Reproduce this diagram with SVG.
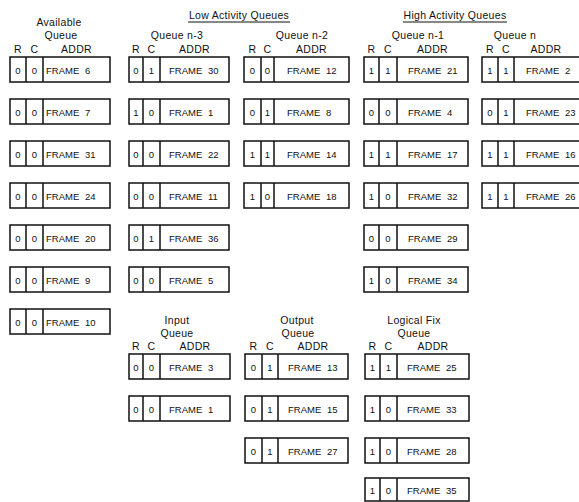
<svg xmlns="http://www.w3.org/2000/svg" width="579" height="502" viewBox="0 0 579 502">
<style>
text{font-family:"Liberation Sans",Arial,sans-serif;fill:#111}
.h{font-size:10.5px;text-anchor:middle;letter-spacing:.3px}
.b{font-size:9.5px;text-anchor:middle}
.f{font-size:9.5px;word-spacing:3px}
rect,path{fill:none;stroke:#111;stroke-width:1.5}
.u{stroke-width:1}
</style>
<rect x="0" y="0" width="579" height="502" style="fill:#fff;stroke:none"/>
<g id="headers">
<text class="h" x="59" y="26">Available</text>
<text class="h" x="61" y="39">Queue</text>
<text class="h" x="239" y="19">Low Activity Queues</text>
<path class="u" d="M188 22H290"/>
<text class="h" x="455" y="19">High Activity Queues</text>
<path class="u" d="M403 22H507"/>
<text class="h" x="177" y="39">Queue n-3</text>
<text class="h" x="302" y="39">Queue n-2</text>
<text class="h" x="418" y="39">Queue n-1</text>
<text class="h" x="515" y="39">Queue n</text>
<text class="h" x="18" y="53">R</text><text class="h" x="34.5" y="53">C</text><text class="h" x="76.5" y="53">ADDR</text>
<text class="h" x="136" y="53">R</text><text class="h" x="151.5" y="53">C</text><text class="h" x="194.5" y="53">ADDR</text>
<text class="h" x="252.5" y="53">R</text><text class="h" x="267.5" y="53">C</text><text class="h" x="311.5" y="53">ADDR</text>
<text class="h" x="371.5" y="53">R</text><text class="h" x="388" y="53">C</text><text class="h" x="432.5" y="53">ADDR</text>
<text class="h" x="490" y="53">R</text><text class="h" x="506" y="53">C</text><text class="h" x="546" y="53">ADDR</text>
<text class="h" x="177" y="324">Input</text>
<text class="h" x="177" y="337">Queue</text>
<text class="h" x="297" y="324">Output</text>
<text class="h" x="298" y="337">Queue</text>
<text class="h" x="414" y="324">Logical Fix</text>
<text class="h" x="414" y="337">Queue</text>
<text class="h" x="136" y="350">R</text><text class="h" x="151.5" y="350">C</text><text class="h" x="195" y="350">ADDR</text>
<text class="h" x="253.5" y="350">R</text><text class="h" x="270" y="350">C</text><text class="h" x="313" y="350">ADDR</text>
<text class="h" x="372.5" y="350">R</text><text class="h" x="388.5" y="350">C</text><text class="h" x="433" y="350">ADDR</text>
</g>
<g id="connectors"></g>
<!-- Available queue -->
<g id="avail-1" transform="translate(0,57)"><rect x="10" width="100" height="25"/><path d="M26 0V25M43 0V25"/><text class="b" x="18" y="16.5">0</text><text class="b" x="34.5" y="16.5">0</text><text class="f" x="46" y="16.5">FRAME 6</text></g>
<g id="avail-2" transform="translate(0,99)"><rect x="10" width="100" height="25"/><path d="M26 0V25M43 0V25"/><text class="b" x="18" y="16.5">0</text><text class="b" x="34.5" y="16.5">0</text><text class="f" x="46" y="16.5">FRAME 7</text></g>
<g id="avail-3" transform="translate(0,141)"><rect x="10" width="100" height="25"/><path d="M26 0V25M43 0V25"/><text class="b" x="18" y="16.5">0</text><text class="b" x="34.5" y="16.5">0</text><text class="f" x="46" y="16.5">FRAME 31</text></g>
<g id="avail-4" transform="translate(0,183)"><rect x="10" width="100" height="25"/><path d="M26 0V25M43 0V25"/><text class="b" x="18" y="16.5">0</text><text class="b" x="34.5" y="16.5">0</text><text class="f" x="46" y="16.5">FRAME 24</text></g>
<g id="avail-5" transform="translate(0,225)"><rect x="10" width="100" height="25"/><path d="M26 0V25M43 0V25"/><text class="b" x="18" y="16.5">0</text><text class="b" x="34.5" y="16.5">0</text><text class="f" x="46" y="16.5">FRAME 20</text></g>
<g id="avail-6" transform="translate(0,267)"><rect x="10" width="100" height="25"/><path d="M26 0V25M43 0V25"/><text class="b" x="18" y="16.5">0</text><text class="b" x="34.5" y="16.5">0</text><text class="f" x="46" y="16.5">FRAME 9</text></g>
<g id="avail-7" transform="translate(0,309)"><rect x="10" width="100" height="25"/><path d="M26 0V25M43 0V25"/><text class="b" x="18" y="16.5">0</text><text class="b" x="34.5" y="16.5">0</text><text class="f" x="46" y="16.5">FRAME 10</text></g>
<!-- Queue n-3 -->
<g id="n3-1" transform="translate(0,57)"><rect x="129" width="100" height="25"/><path d="M143 0V25M160 0V25"/><text class="b" x="136" y="16.5">0</text><text class="b" x="151.5" y="16.5">1</text><text class="f" x="169" y="16.5">FRAME 30</text></g>
<g id="n3-2" transform="translate(0,99)"><rect x="129" width="100" height="25"/><path d="M143 0V25M160 0V25"/><text class="b" x="136" y="16.5">1</text><text class="b" x="151.5" y="16.5">0</text><text class="f" x="169" y="16.5">FRAME 1</text></g>
<g id="n3-3" transform="translate(0,141)"><rect x="129" width="100" height="25"/><path d="M143 0V25M160 0V25"/><text class="b" x="136" y="16.5">0</text><text class="b" x="151.5" y="16.5">0</text><text class="f" x="169" y="16.5">FRAME 22</text></g>
<g id="n3-4" transform="translate(0,183)"><rect x="129" width="100" height="25"/><path d="M143 0V25M160 0V25"/><text class="b" x="136" y="16.5">0</text><text class="b" x="151.5" y="16.5">0</text><text class="f" x="169" y="16.5">FRAME 11</text></g>
<g id="n3-5" transform="translate(0,225)"><rect x="129" width="100" height="25"/><path d="M143 0V25M160 0V25"/><text class="b" x="136" y="16.5">0</text><text class="b" x="151.5" y="16.5">1</text><text class="f" x="169" y="16.5">FRAME 36</text></g>
<g id="n3-6" transform="translate(0,267)"><rect x="129" width="100" height="25"/><path d="M143 0V25M160 0V25"/><text class="b" x="136" y="16.5">0</text><text class="b" x="151.5" y="16.5">0</text><text class="f" x="169" y="16.5">FRAME 5</text></g>
<!-- Queue n-2 -->
<g id="n2-1" transform="translate(0,57)"><rect x="244" width="105" height="25"/><path d="M261 0V25M274 0V25"/><text class="b" x="252.5" y="16.5">0</text><text class="b" x="267.5" y="16.5">0</text><text class="f" x="287" y="16.5">FRAME 12</text></g>
<g id="n2-2" transform="translate(0,99)"><rect x="244" width="105" height="25"/><path d="M261 0V25M274 0V25"/><text class="b" x="252.5" y="16.5">0</text><text class="b" x="267.5" y="16.5">1</text><text class="f" x="287" y="16.5">FRAME 8</text></g>
<g id="n2-3" transform="translate(0,141)"><rect x="244" width="105" height="25"/><path d="M261 0V25M274 0V25"/><text class="b" x="252.5" y="16.5">1</text><text class="b" x="267.5" y="16.5">1</text><text class="f" x="287" y="16.5">FRAME 14</text></g>
<g id="n2-4" transform="translate(0,183)"><rect x="244" width="105" height="25"/><path d="M261 0V25M274 0V25"/><text class="b" x="252.5" y="16.5">1</text><text class="b" x="267.5" y="16.5">0</text><text class="f" x="287" y="16.5">FRAME 18</text></g>
<!-- Queue n-1 -->
<g id="n1-1" transform="translate(0,57)"><rect x="364" width="104" height="25"/><path d="M379 0V25M397 0V25"/><text class="b" x="371.5" y="16.5">1</text><text class="b" x="388" y="16.5">1</text><text class="f" x="408" y="16.5">FRAME 21</text></g>
<g id="n1-2" transform="translate(0,99)"><rect x="364" width="104" height="25"/><path d="M379 0V25M397 0V25"/><text class="b" x="371.5" y="16.5">0</text><text class="b" x="388" y="16.5">0</text><text class="f" x="408" y="16.5">FRAME 4</text></g>
<g id="n1-3" transform="translate(0,141)"><rect x="364" width="104" height="25"/><path d="M379 0V25M397 0V25"/><text class="b" x="371.5" y="16.5">1</text><text class="b" x="388" y="16.5">1</text><text class="f" x="408" y="16.5">FRAME 17</text></g>
<g id="n1-4" transform="translate(0,183)"><rect x="364" width="104" height="25"/><path d="M379 0V25M397 0V25"/><text class="b" x="371.5" y="16.5">1</text><text class="b" x="388" y="16.5">0</text><text class="f" x="408" y="16.5">FRAME 32</text></g>
<g id="n1-5" transform="translate(0,225)"><rect x="364" width="104" height="25"/><path d="M379 0V25M397 0V25"/><text class="b" x="371.5" y="16.5">0</text><text class="b" x="388" y="16.5">0</text><text class="f" x="408" y="16.5">FRAME 29</text></g>
<g id="n1-6" transform="translate(0,267)"><rect x="364" width="104" height="25"/><path d="M379 0V25M397 0V25"/><text class="b" x="371.5" y="16.5">1</text><text class="b" x="388" y="16.5">0</text><text class="f" x="408" y="16.5">FRAME 34</text></g>
<!-- Queue n -->
<g id="n-1" transform="translate(0,57)"><rect x="482" width="102" height="25"/><path d="M498 0V25M514 0V25"/><text class="b" x="490" y="16.5">1</text><text class="b" x="506" y="16.5">1</text><text class="f" x="526" y="16.5">FRAME 2</text></g>
<g id="n-2" transform="translate(0,99)"><rect x="482" width="102" height="25"/><path d="M498 0V25M514 0V25"/><text class="b" x="490" y="16.5">0</text><text class="b" x="506" y="16.5">1</text><text class="f" x="526" y="16.5">FRAME 23</text></g>
<g id="n-3" transform="translate(0,141)"><rect x="482" width="102" height="25"/><path d="M498 0V25M514 0V25"/><text class="b" x="490" y="16.5">1</text><text class="b" x="506" y="16.5">1</text><text class="f" x="526" y="16.5">FRAME 16</text></g>
<g id="n-4" transform="translate(0,183)"><rect x="482" width="102" height="25"/><path d="M498 0V25M514 0V25"/><text class="b" x="490" y="16.5">1</text><text class="b" x="506" y="16.5">1</text><text class="f" x="526" y="16.5">FRAME 26</text></g>
<!-- Input queue -->
<g id="in-1" transform="translate(0,354)"><rect x="129" width="101" height="25"/><path d="M143 0V25M160 0V25"/><text class="b" x="136" y="16.5">0</text><text class="b" x="151.5" y="16.5">0</text><text class="f" x="169" y="16.5">FRAME 3</text></g>
<g id="in-2" transform="translate(0,396)"><rect x="129" width="101" height="25"/><path d="M143 0V25M160 0V25"/><text class="b" x="136" y="16.5">0</text><text class="b" x="151.5" y="16.5">0</text><text class="f" x="169" y="16.5">FRAME 1</text></g>
<!-- Output queue -->
<g id="out-1" transform="translate(0,354)"><rect x="245" width="103" height="25"/><path d="M262 0V25M278 0V25"/><text class="b" x="253.5" y="16.5">0</text><text class="b" x="270" y="16.5">1</text><text class="f" x="288" y="16.5">FRAME 13</text></g>
<g id="out-2" transform="translate(0,396)"><rect x="245" width="103" height="25"/><path d="M262 0V25M278 0V25"/><text class="b" x="253.5" y="16.5">0</text><text class="b" x="270" y="16.5">1</text><text class="f" x="288" y="16.5">FRAME 15</text></g>
<g id="out-3" transform="translate(0,438)"><rect x="245" width="103" height="25"/><path d="M262 0V25M278 0V25"/><text class="b" x="253.5" y="16.5">0</text><text class="b" x="270" y="16.5">1</text><text class="f" x="288" y="16.5">FRAME 27</text></g>
<!-- Logical fix queue -->
<g id="lf-1" transform="translate(0,354)"><rect x="365" width="104" height="25"/><path d="M380 0V25M397 0V25"/><text class="b" x="372.5" y="16.5">1</text><text class="b" x="388.5" y="16.5">1</text><text class="f" x="407" y="16.5">FRAME 25</text></g>
<g id="lf-2" transform="translate(0,396)"><rect x="365" width="104" height="25"/><path d="M380 0V25M397 0V25"/><text class="b" x="372.5" y="16.5">1</text><text class="b" x="388.5" y="16.5">0</text><text class="f" x="407" y="16.5">FRAME 33</text></g>
<g id="lf-3" transform="translate(0,438)"><rect x="365" width="104" height="25"/><path d="M380 0V25M397 0V25"/><text class="b" x="372.5" y="16.5">1</text><text class="b" x="388.5" y="16.5">0</text><text class="f" x="407" y="16.5">FRAME 28</text></g>
<g id="lf-4" transform="translate(0,478)"><rect x="365" width="104" height="23"/><path d="M380 0V23M397 0V23"/><text class="b" x="372.5" y="15.5">1</text><text class="b" x="388.5" y="15.5">0</text><text class="f" x="407" y="15.5">FRAME 35</text></g>
</svg>
